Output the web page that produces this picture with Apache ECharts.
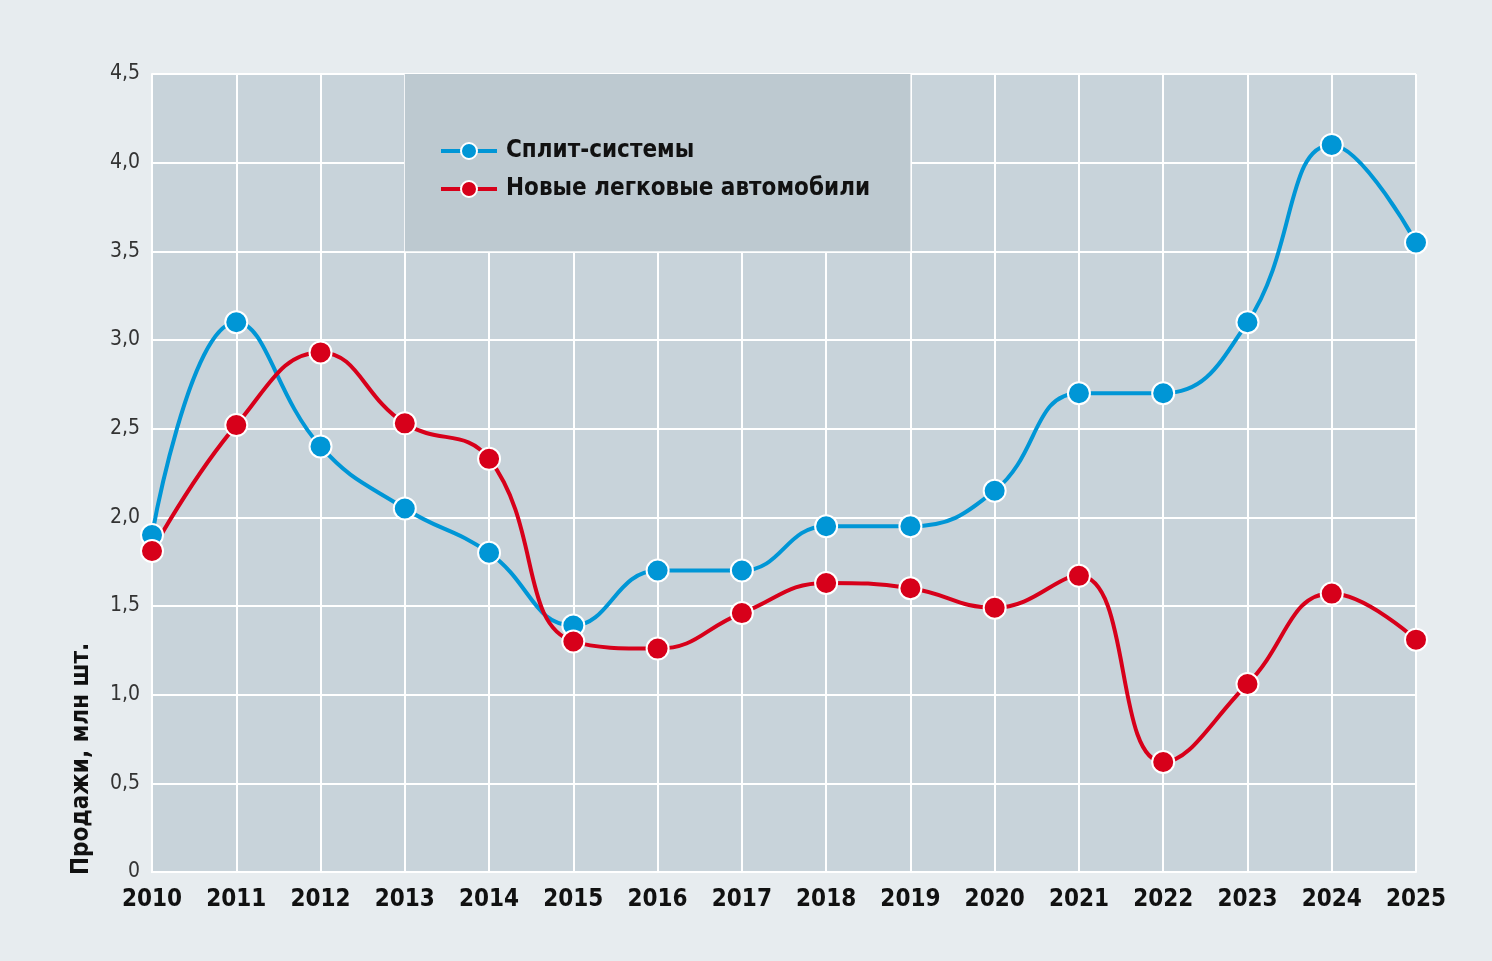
<!DOCTYPE html>
<html style="height: 100%">
  <head>
    <meta charset="UTF-8" />
    <title>ECharts</title>
    <script src="https://cdn.jsdelivr.net/npm/echarts/dist/echarts.min.js"></script>
  </head>
  <body style="height: 100%; margin: 0; background: #e7ecef">
    <div id="main" style="width: 1492px; height: 961px"></div>
    <script>
      var years = ['2010', '2011', '2012', '2013', '2014', '2015', '2016', '2017',
        '2018', '2019', '2020', '2021', '2022', '2023', '2024', '2025'];
      var splitSystems = [1.9, 3.1, 2.4, 2.05, 1.8, 1.39, 1.7, 1.7,
        1.95, 1.95, 2.15, 2.7, 2.7, 3.1, 4.1, 3.55];
      var newCars = [1.81, 2.52, 2.93, 2.53, 2.33, 1.3, 1.26, 1.46,
        1.63, 1.6, 1.49, 1.67, 0.62, 1.06, 1.57, 1.31];
      var seriesNames = ['Сплит-системы', 'Новые легковые автомобили'];
      var yAxisTitle = 'Продажи, млн шт.';

      var FONT = '"DejaVu Sans Condensed", "Liberation Sans Narrow", sans-serif';
      var BLUE = '#0096d6';
      var RED = '#d7001a';

      var chartDom = document.getElementById('main');
      var myChart = echarts.init(chartDom);
      var option;

      function lineSeries(name, data, color) {
        return {
          type: 'line',
          name: name,
          data: data,
          smooth: 0.45,
          symbol: 'circle',
          symbolSize: 22,
          lineStyle: { color: color, width: 4 },
          itemStyle: { color: color, borderColor: '#fff', borderWidth: 2 },
          emphasis: { disabled: true }
        };
      }

      var blue = lineSeries(seriesNames[0], splitSystems, BLUE);
      // darker panel behind the legend
      blue.markArea = {
        silent: true,
        itemStyle: { color: '#bdc9d0' },
        data: [[{ xAxis: '2013', yAxis: 3.5 }, { xAxis: '2019', yAxis: 4.5 }]]
      };

      option = {
        backgroundColor: '#e7ecef',
        animation: false,
        textStyle: { fontFamily: FONT },
        grid: {
          left: 152,
          right: 76,
          top: 74,
          bottom: 89,
          show: true,
          backgroundColor: '#c8d3da',
          borderWidth: 0
        },
        legend: {
          left: 434,
          top: 134,
          orient: 'vertical',
          itemWidth: 56,
          itemHeight: 20,
          itemGap: 14,
          lineStyle: { width: 4 },
          textStyle: { fontFamily: FONT, fontSize: 24, fontWeight: 'bold', color: '#111', padding: [0, 0, 0, 4] },
          data: seriesNames
        },
        xAxis: {
          type: 'category',
          boundaryGap: false,
          data: years,
          axisLine: { lineStyle: { color: '#fff', width: 2 } },
          axisTick: { show: false },
          axisLabel: {
            interval: 0,
            margin: 16,
            fontFamily: FONT,
            fontSize: 24,
            fontWeight: 'bold',
            color: '#111'
          },
          splitLine: { show: true, interval: 0, lineStyle: { color: '#fff', width: 2 } }
        },
        yAxis: {
          type: 'value',
          min: 0,
          max: 4.5,
          interval: 0.5,
          axisLine: { show: true, lineStyle: { color: '#fff', width: 2 } },
          axisTick: { show: false },
          axisLabel: {
            margin: 12,
            fontFamily: FONT,
            fontSize: 21,
            color: '#333',
            formatter: function (v) {
              return v === 0 ? '0' : v.toFixed(1).replace('.', ',');
            }
          },
          splitLine: { lineStyle: { color: '#fff', width: 2 } }
        },
        graphic: [
          {
            type: 'text',
            x: 82,
            y: 875,
            rotation: Math.PI / 2,
            style: {
              text: yAxisTitle,
              fontFamily: FONT,
              fontSize: 24,
              fontWeight: 'bold',
              fill: '#111',
              align: 'left',
              verticalAlign: 'middle'
            }
          }
        ],
        series: [blue, lineSeries(seriesNames[1], newCars, RED)]
      };

      option && myChart.setOption(option);
    </script>
  </body>
</html>
